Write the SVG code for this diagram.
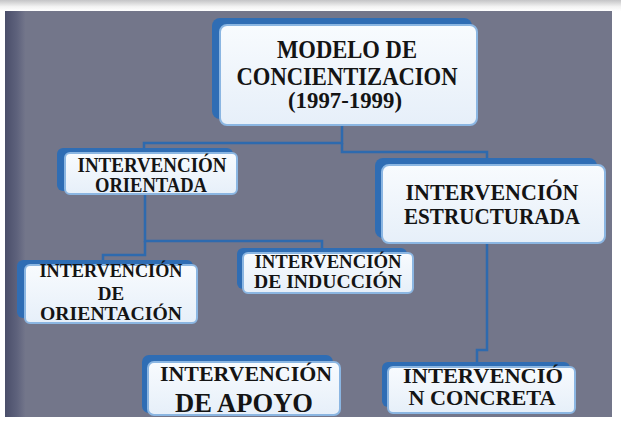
<svg xmlns="http://www.w3.org/2000/svg" width="621" height="424" viewBox="0 0 621 424">
<defs>
<linearGradient id="topg" x1="0" y1="0" x2="0" y2="1">
<stop offset="0" stop-color="#c4c4c6"/>
<stop offset="0.6" stop-color="#f2f2f2"/>
<stop offset="1" stop-color="#ffffff"/>
</linearGradient>
<linearGradient id="leftg" x1="0" y1="0" x2="1" y2="0">
<stop offset="0" stop-color="#4a4e6a"/>
<stop offset="0.6" stop-color="#5e627c"/>
<stop offset="1" stop-color="#72758a"/>
</linearGradient>
<linearGradient id="face" x1="0" y1="0" x2="0" y2="1">
<stop offset="0" stop-color="#f8fbfe"/>
<stop offset="1" stop-color="#e6eff9"/>
</linearGradient>
</defs>
<style>
.back{fill:#2f6db4}
.front{fill:url(#face);stroke:#8bb6e2;stroke-width:2}
.t{font-family:"Liberation Serif","Times New Roman",serif;font-weight:bold;fill:#141414;text-anchor:middle}
.conn{fill:none;stroke:#2e6aae;stroke-width:2.5}
</style>
<rect x="0" y="0" width="621" height="424" fill="#ffffff"/>
<rect x="0" y="0" width="621" height="11" fill="url(#topg)"/>
<rect x="5" y="11" width="607" height="406" fill="#73768a"/>
<rect x="5" y="11" width="20" height="406" fill="url(#leftg)"/>

<g id="connectors">
<polyline class="conn" points="342,125 342,143 144,143 144,150"/>
<polyline class="conn" points="342,143 342,152 487,152 487,160"/>
<polyline class="conn" points="145,195 145,241 322,241 322,250"/>
<polyline class="conn" points="145,241 145,255 103,255 103,262"/>
<polyline class="conn" points="487,243 487,350 477,350 477,364"/>
</g>

<g id="modelo">
<rect class="back" x="212" y="18" width="260" height="101" rx="8"/>
<rect class="front" x="220" y="25" width="257" height="100" rx="7"/>
<text class="t" x="347" y="58" font-size="25" textLength="140" lengthAdjust="spacingAndGlyphs">MODELO DE</text>
<text class="t" x="347" y="85" font-size="25" textLength="221" lengthAdjust="spacingAndGlyphs">CONCIENTIZACION</text>
<text class="t" x="345" y="108" font-size="23" textLength="114" lengthAdjust="spacingAndGlyphs">(1997-1999)</text>
</g>

<g id="orientada">
<rect class="back" x="57" y="148" width="176" height="43" rx="6"/>
<rect class="front" x="65" y="153" width="172" height="41" rx="5"/>
<text class="t" x="152" y="172" font-size="20" textLength="149" lengthAdjust="spacingAndGlyphs">INTERVENCIÓN</text>
<text class="t" x="151" y="192" font-size="20" textLength="112" lengthAdjust="spacingAndGlyphs">ORIENTADA</text>
</g>

<g id="estructurada">
<rect class="back" x="375" y="158" width="222" height="80" rx="8"/>
<rect class="front" x="382" y="165" width="223" height="78" rx="7"/>
<text class="t" x="492" y="200" font-size="23" textLength="173" lengthAdjust="spacingAndGlyphs">INTERVENCIÓN</text>
<text class="t" x="492" y="224" font-size="23" textLength="176" lengthAdjust="spacingAndGlyphs">ESTRUCTURADA</text>
</g>

<g id="de-orientacion">
<rect class="back" x="17" y="260" width="176" height="58" rx="6"/>
<rect class="front" x="25" y="265" width="172" height="58" rx="5"/>
<text class="t" x="111" y="277" font-size="19" textLength="143" lengthAdjust="spacingAndGlyphs">INTERVENCIÓN</text>
<text class="t" x="111" y="300" font-size="19">DE</text>
<text class="t" x="111" y="320" font-size="19" textLength="142" lengthAdjust="spacingAndGlyphs">ORIENTACIÓN</text>
</g>

<g id="induccion">
<rect class="back" x="237" y="248" width="170" height="41" rx="6"/>
<rect class="front" x="243" y="253" width="170" height="40" rx="5"/>
<text class="t" x="328" y="268" font-size="19" textLength="147" lengthAdjust="spacingAndGlyphs">INTERVENCIÓN</text>
<text class="t" x="328" y="288" font-size="19" textLength="148" lengthAdjust="spacingAndGlyphs">DE INDUCCIÓN</text>
</g>

<g id="apoyo">
<rect class="back" x="142" y="355" width="191" height="58" rx="7"/>
<rect class="front" x="148" y="362" width="192" height="53" rx="6"/>
<text class="t" x="246" y="381" font-size="22" textLength="172" lengthAdjust="spacingAndGlyphs">INTERVENCIÓN</text>
<text class="t" x="244" y="412" font-size="27" textLength="138" lengthAdjust="spacingAndGlyphs">DE APOYO</text>
</g>

<g id="concreta">
<rect class="back" x="382" y="362" width="188" height="45" rx="6"/>
<rect class="front" x="388" y="367" width="187" height="46" rx="5"/>
<text class="t" x="483" y="383" font-size="20" textLength="160" lengthAdjust="spacingAndGlyphs">INTERVENCIÓ</text>
<text class="t" x="482" y="405" font-size="20" textLength="147" lengthAdjust="spacingAndGlyphs">N CONCRETA</text>
</g>
</svg>
